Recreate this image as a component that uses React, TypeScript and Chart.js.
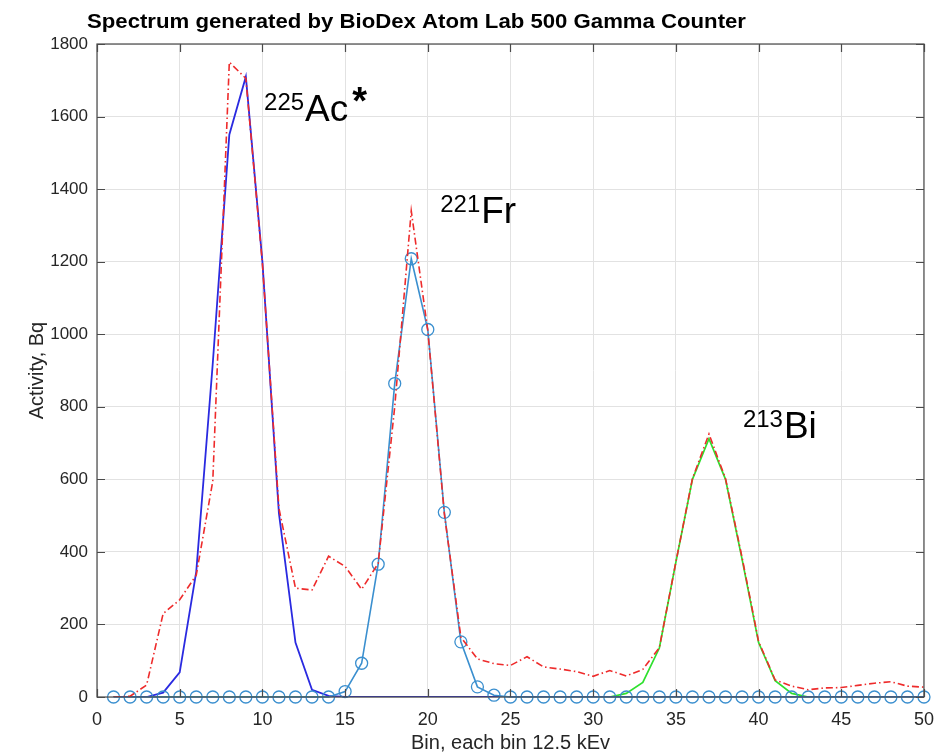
import React, { useEffect, useRef } from "react";
import { Chart, registerables } from "chart.js";

Chart.register(...registerables);

// ---- data ----
const BINS = [
  1, 2, 3, 4, 5, 6, 7, 8, 9, 10, 11, 12, 13, 14, 15, 16, 17, 18, 19, 20, 21, 22, 23, 24, 25,
  26, 27, 28, 29, 30, 31, 32, 33, 34, 35, 36, 37, 38, 39, 40, 41, 42, 43, 44, 45, 46, 47, 48, 49, 50,
];

// total measured spectrum (red dash-dot)
const TOTAL_ACTIVITY = [
  0, 2, 33, 230, 268, 336, 595, 1750, 1705, 1195,
  520, 300, 295, 388, 360, 297, 368, 800, 1340, 1010,
  505, 165, 105, 92, 87, 111, 83, 77, 70, 57,
  73, 58, 76, 136, 372, 602, 725, 602, 385, 153,
  47, 30, 20, 25, 26, 32, 38, 42, 30, 27,
];

// 225Ac component (blue)
const AC225 = [
  0, 0, 0, 12, 68, 345, 920, 1550, 1710, 1200,
  506, 150, 20, 3, 0, 0, 0, 0, 0, 0,
  0, 0, 0, 0, 0, 0, 0, 0, 0, 0,
  0, 0, 0, 0, 0, 0, 0, 0, 0, 0,
  0, 0, 0, 0, 0, 0, 0, 0, 0, 0,
];

// 221Fr component (light blue, circles)
const FR221 = [
  0, 0, 0, 0, 0, 0, 0, 0, 0, 0,
  0, 0, 0, 0, 15, 93, 366, 864, 1208, 1013,
  509, 152, 28, 5, 0, 0, 0, 0, 0, 0,
  0, 0, 0, 0, 0, 0, 0, 0, 0, 0,
  0, 0, 0, 0, 0, 0, 0, 0, 0, 0,
];

// 213Bi component (green)
const BI213 = [
  0, 0, 0, 0, 0, 0, 0, 0, 0, 0,
  0, 0, 0, 0, 0, 0, 0, 0, 0, 0,
  0, 0, 0, 0, 0, 0, 0, 0, 0, 0,
  0, 10, 40, 135, 372, 600, 712, 600, 380, 150,
  45, 10, 0, 0, 0, 0, 0, 0, 0, 0,
];

const X_TICKS = [0, 5, 10, 15, 20, 25, 30, 35, 40, 45, 50];
const Y_TICKS = [0, 200, 400, 600, 800, 1000, 1200, 1400, 1600, 1800];

const TITLE = "Spectrum generated by BioDex Atom Lab 500 Gamma Counter";
const X_LABEL = "Bin, each bin 12.5 kEv";
const Y_LABEL = "Activity, Bq";

const ISOTOPE_MASS = ["225", "221", "213"];
const ISOTOPE_SYMBOL = ["Ac", "Fr", "Bi"];
const ISOTOPE_STAR = [true, false, false];
const ISOTOPE_BIN = [10.1, 20.75, 39.05];
const ISOTOPE_ACTIVITY = [1587, 1306, 713];

const FONT = "'Liberation Sans', Arial, sans-serif";

const toPoints = (vals: number[]) => BINS.map((b, i) => ({ x: b, y: vals[i] }));

const decorPlugin = {
  id: "decor",
  afterDatasetsDraw(chart: any) {
    const { ctx, chartArea, scales } = chart;
    const { left, right, top, bottom } = chartArea;
    const xs = scales.x;
    const ys = scales.y;
    ctx.save();
    // axes box
    ctx.strokeStyle = "#4a4a4a";
    ctx.lineWidth = 1.2;
    ctx.strokeRect(left, top, right - left, bottom - top);
    // inward ticks
    const tl = 8;
    ctx.beginPath();
    X_TICKS.forEach((v) => {
      const px = Math.round(xs.getPixelForValue(v)) + 0.5;
      ctx.moveTo(px, bottom);
      ctx.lineTo(px, bottom - tl);
      ctx.moveTo(px, top);
      ctx.lineTo(px, top + tl);
    });
    Y_TICKS.forEach((v) => {
      const py = Math.round(ys.getPixelForValue(v)) + 0.5;
      ctx.moveTo(left, py);
      ctx.lineTo(left + tl, py);
      ctx.moveTo(right, py);
      ctx.lineTo(right - tl, py);
    });
    ctx.stroke();

    // isotope labels
    ctx.fillStyle = "#000";
    ctx.textAlign = "left";
    ctx.textBaseline = "alphabetic";
    for (let i = 0; i < ISOTOPE_MASS.length; i++) {
      let px = xs.getPixelForValue(ISOTOPE_BIN[i]);
      const py = ys.getPixelForValue(ISOTOPE_ACTIVITY[i]);
      ctx.font = `24px ${FONT}`;
      ctx.fillText(ISOTOPE_MASS[i], px, py - 11);
      px += ctx.measureText(ISOTOPE_MASS[i]).width + 1;
      ctx.font = `37px ${FONT}`;
      ctx.fillText(ISOTOPE_SYMBOL[i], px, py);
      px += ctx.measureText(ISOTOPE_SYMBOL[i]).width;
      if (ISOTOPE_STAR[i]) {
        ctx.font = `bold 38px ${FONT}`;
        ctx.fillText("*", px + 4, py - 7);
      }
    }
    ctx.restore();
  },
  afterDraw(chart: any) {
    const { ctx } = chart;
    ctx.save();
    ctx.fillStyle = "#000";
    ctx.textAlign = "left";
    ctx.textBaseline = "alphabetic";
    ctx.font = `bold 20px ${FONT}`;
    const w = ctx.measureText(TITLE).width;
    ctx.translate(87, 28);
    ctx.scale(659 / w, 1);
    ctx.fillText(TITLE, 0, 0);
    ctx.restore();
  },
};

export default function App() {
  const ref = useRef<HTMLCanvasElement | null>(null);

  useEffect(() => {
    if (!ref.current) return;
    Chart.defaults.font.family = FONT;
    const gridColor = "#e2e2e2";
    const chart = new Chart(ref.current, {
      type: "line",
      data: {
        datasets: [
          {
            label: "Total",
            data: toPoints(TOTAL_ACTIVITY),
            borderColor: "#ee2b2b",
            borderWidth: 1.6,
            borderDash: [7, 3, 1.5, 3],
            pointRadius: 0,
            tension: 0,
            fill: false,
          },
          {
            label: "221Fr",
            data: toPoints(FR221),
            borderColor: "#3a8fcf",
            borderWidth: 1.6,
            pointRadius: 6,
            pointBorderWidth: 1.3,
            pointBackgroundColor: "rgba(0,0,0,0)",
            pointBorderColor: "#3a8fcf",
            tension: 0,
            fill: false,
            clip: false,
          },
          {
            label: "225Ac",
            data: toPoints(AC225),
            borderColor: "#2a2ae0",
            borderWidth: 1.8,
            pointRadius: 0,
            tension: 0,
            fill: false,
          },
          {
            label: "213Bi",
            data: toPoints(BI213),
            borderColor: "#2ee02e",
            borderWidth: 1.7,
            pointRadius: 0,
            tension: 0,
            fill: false,
          },
        ],
      },
      options: {
        responsive: false,
        animation: false,
        events: [],
        layout: { padding: { top: 44, right: 18, bottom: 0, left: 0 } },
        plugins: {
          legend: { display: false },
          tooltip: { enabled: false },
          title: { display: false },
        },
        scales: {
          x: {
            type: "linear",
            min: 0,
            max: 50,
            afterBuildTicks: (s: any) => {
              s.ticks = X_TICKS.map((v) => ({ value: v }));
            },
            afterFit: (s: any) => {
              s.height = 58;
            },
            grid: { color: gridColor, drawTicks: false },
            border: { display: false },
            ticks: {
              padding: 12,
              color: "#262626",
              font: { size: 18 },
              maxRotation: 0,
              autoSkip: false,
              callback: (v: any) => String(v),
            },
            title: {
              display: true,
              text: X_LABEL,
              color: "#262626",
              font: { size: 20 },
              padding: { top: 0, bottom: 0 },
            },
          },
          y: {
            type: "linear",
            min: 0,
            max: 1800,
            afterBuildTicks: (s: any) => {
              s.ticks = Y_TICKS.map((v) => ({ value: v }));
            },
            afterFit: (s: any) => {
              s.width = 97;
            },
            grid: { color: gridColor, drawTicks: false },
            border: { display: false },
            ticks: {
              padding: 9,
              color: "#262626",
              font: { size: 17 },
              autoSkip: false,
              callback: (v: any) => String(v),
            },
            title: {
              display: true,
              text: Y_LABEL,
              color: "#262626",
              font: { size: 20 },
              padding: { top: 25, bottom: 0 },
            },
          },
        },
      },
      plugins: [decorPlugin],
    } as any);
    return () => chart.destroy();
  }, []);

  return (
    <canvas
      ref={ref}
      width={946}
      height={755}
      style={{ position: "absolute", left: 0, top: 0, display: "block" }}
    />
  );
}
